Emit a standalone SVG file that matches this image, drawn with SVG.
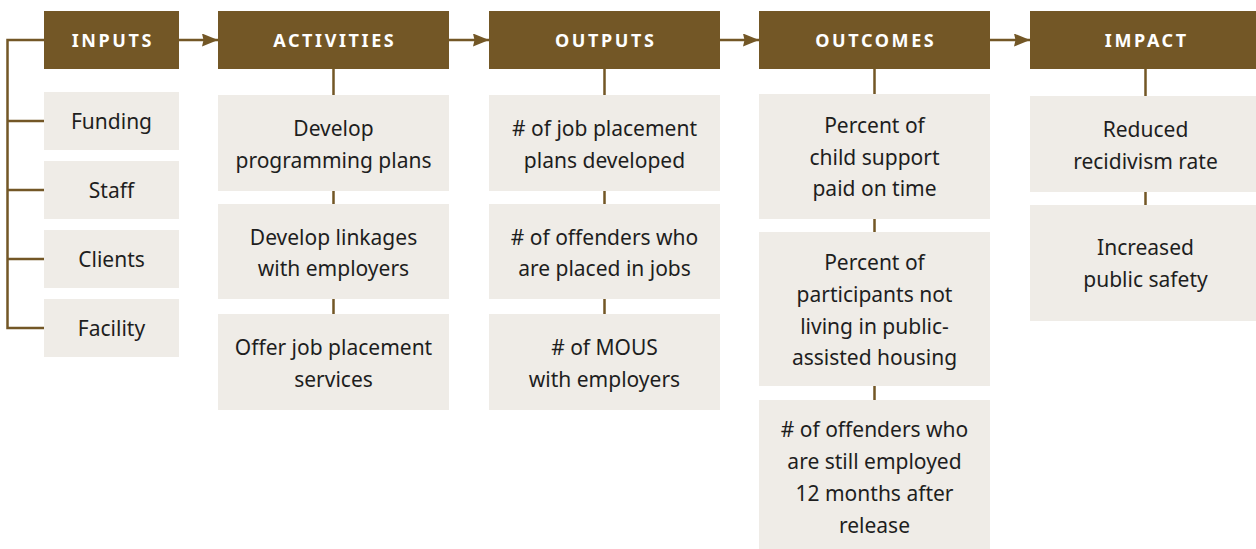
<svg xmlns="http://www.w3.org/2000/svg" width="1256" height="549" viewBox="0 0 1256 549">
<style>
.hd{fill:#735726}
.bx{fill:#efece7}
.ht{font-family:"Noto Sans",sans-serif;font-weight:bold;font-size:18px;letter-spacing:2.6px;fill:#ffffff;text-anchor:middle}
.t{font-family:"Noto Sans",sans-serif;font-size:21px;fill:#1e1e1e;text-anchor:middle}
.c{stroke:#735726;stroke-width:2.5;fill:none}
</style>
<defs>
<marker id="ah" viewBox="0 0 16 13" refX="16" refY="6.5" markerWidth="16" markerHeight="13" markerUnits="userSpaceOnUse" orient="auto">
<path d="M0,0 L16,6.5 L0,13 L1.5,6.5 Z" fill="#735726"/>
</marker>
</defs>
<g id="connectors">
<path class="c" d="M44,40 H7.5 V328 H44 M7.5,121 H44 M7.5,190 H44 M7.5,259 H44"/>
<path class="c" d="M179,40 H218" marker-end="url(#ah)"/>
<path class="c" d="M449,40 H489" marker-end="url(#ah)"/>
<path class="c" d="M720,40 H759" marker-end="url(#ah)"/>
<path class="c" d="M990,40 H1030" marker-end="url(#ah)"/>
<path class="c" d="M333.5,69 V95 M333.5,191 V204 M333.5,299 V314"/>
<path class="c" d="M604.5,69 V95 M604.5,191 V204 M604.5,299 V314"/>
<path class="c" d="M874.5,69 V94 M874.5,219 V232 M874.5,386 V400"/>
<path class="c" d="M1145.5,69 V96 M1145.5,192 V205"/>
</g>
<g id="inputs">
<rect class="hd" x="44" y="11" width="135" height="58"/>
<text class="ht" x="112.8" y="47">INPUTS</text>
</g>
<g id="funding"><rect class="bx" x="44" y="92" width="135" height="58"/><text class="t" x="111.5" y="128.5">Funding</text></g>
<g id="staff"><rect class="bx" x="44" y="161" width="135" height="58"/><text class="t" x="111.5" y="197.5">Staff</text></g>
<g id="clients"><rect class="bx" x="44" y="230" width="135" height="58"/><text class="t" x="111.5" y="266.5">Clients</text></g>
<g id="facility"><rect class="bx" x="44" y="299" width="135" height="58"/><text class="t" x="111.5" y="335.5">Facility</text></g>

<g id="activities">
<rect class="hd" x="218" y="11" width="231" height="58"/>
<text class="ht" x="334.8" y="47">ACTIVITIES</text>
</g>
<g id="act1"><rect class="bx" x="218" y="95" width="231" height="96"/><text class="t" x="333.5" y="136">Develop</text><text class="t" x="333.5" y="167.5">programming plans</text></g>
<g id="act2"><rect class="bx" x="218" y="204" width="231" height="95"/><text class="t" x="333.5" y="244.5">Develop linkages</text><text class="t" x="333.5" y="276">with employers</text></g>
<g id="act3"><rect class="bx" x="218" y="314" width="231" height="96"/><text class="t" x="333.5" y="355">Offer job placement</text><text class="t" x="333.5" y="386.5">services</text></g>

<g id="outputs">
<rect class="hd" x="489" y="11" width="231" height="58"/>
<text class="ht" x="605.8" y="47">OUTPUTS</text>
</g>
<g id="out1"><rect class="bx" x="489" y="95" width="231" height="96"/><text class="t" x="604.5" y="136"># of job placement</text><text class="t" x="604.5" y="167.5">plans developed</text></g>
<g id="out2"><rect class="bx" x="489" y="204" width="231" height="95"/><text class="t" x="604.5" y="244.5"># of offenders who</text><text class="t" x="604.5" y="276">are placed in jobs</text></g>
<g id="out3"><rect class="bx" x="489" y="314" width="231" height="96"/><text class="t" x="604.5" y="355"># of MOUS</text><text class="t" x="604.5" y="386.5">with employers</text></g>

<g id="outcomes">
<rect class="hd" x="759" y="11" width="231" height="58"/>
<text class="ht" x="875.8" y="47">OUTCOMES</text>
</g>
<g id="oc1"><rect class="bx" x="759" y="94" width="231" height="125"/><text class="t" x="874.5" y="133">Percent of</text><text class="t" x="874.5" y="164.5">child support</text><text class="t" x="874.5" y="196">paid on time</text></g>
<g id="oc2"><rect class="bx" x="759" y="232" width="231" height="154"/><text class="t" x="874.5" y="270">Percent of</text><text class="t" x="874.5" y="301.8">participants not</text><text class="t" x="874.5" y="333.6">living in public-</text><text class="t" x="874.5" y="365.4">assisted housing</text></g>
<g id="oc3"><rect class="bx" x="759" y="400" width="231" height="149"/><text class="t" x="874.5" y="436.5"># of offenders who</text><text class="t" x="874.5" y="468.5">are still employed</text><text class="t" x="874.5" y="500.5">12 months after</text><text class="t" x="874.5" y="532.5">release</text></g>

<g id="impact">
<rect class="hd" x="1030" y="11" width="231" height="58"/>
<text class="ht" x="1146.8" y="47">IMPACT</text>
</g>
<g id="im1"><rect class="bx" x="1030" y="96" width="231" height="96"/><text class="t" x="1145.5" y="137">Reduced</text><text class="t" x="1145.5" y="168.5">recidivism rate</text></g>
<g id="im2"><rect class="bx" x="1030" y="205" width="231" height="116"/><text class="t" x="1145.5" y="255">Increased</text><text class="t" x="1145.5" y="286.5">public safety</text></g>
</svg>
